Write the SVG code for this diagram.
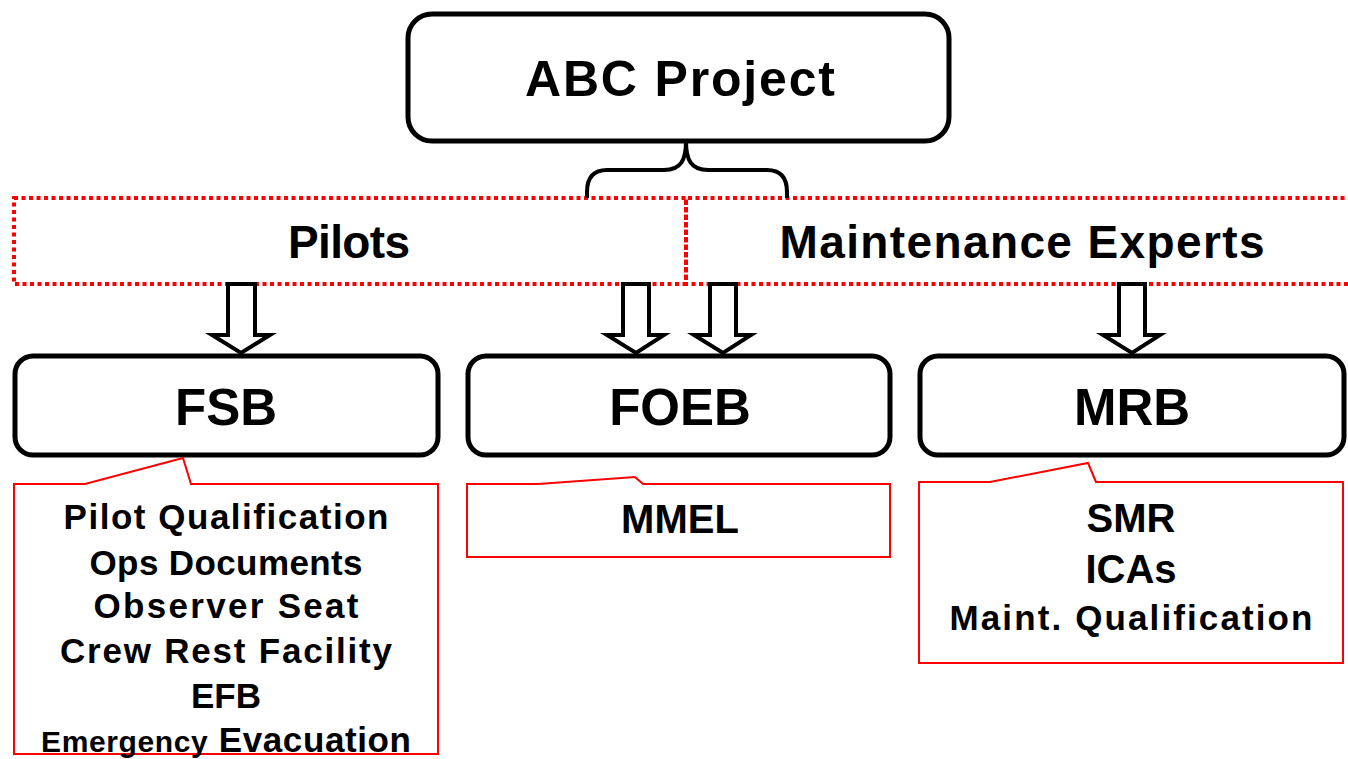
<svg xmlns="http://www.w3.org/2000/svg" width="1348" height="759" viewBox="0 0 1348 759">
<style>
.box{fill:#fff;stroke:#000;stroke-width:5}
.group{fill:none;stroke:#f00;stroke-width:4;stroke-dasharray:4 3.5}
.call{fill:#fff;stroke:#f00;stroke-width:2}
.arrow{fill:#fff;stroke:#000;stroke-width:4;stroke-linejoin:miter}
.brace{fill:none;stroke:#000;stroke-width:4}
text{font-family:"Liberation Sans",Arial,sans-serif;font-weight:bold;fill:#000;text-anchor:middle}
.t1{font-size:50px}
.t2{font-size:46px}
.t3{font-size:51px}
.t4{font-size:35px}
.t5{font-size:40px}
</style>
<rect width="1348" height="759" fill="#fff"/>
<g id="abc-project">
<rect class="box" x="408" y="14" width="541" height="127" rx="24"/>
<text class="t1" x="680" y="96" textLength="310">ABC Project</text>
</g>
<g id="pilots">
<rect class="group" x="14" y="198" width="672" height="86"/>
<text class="t2" x="349" y="258" textLength="122">Pilots</text>
</g>
<g id="maintenance-experts">
<path class="group" d="M1352,198 H686 V284 H1352"/>
<text class="t2" x="1022" y="258" textLength="485">Maintenance Experts</text>
</g>
<g id="connectors">
<path class="brace" d="M686,141 C686,160 681,170 664,170 L607,170 Q587,170 587,192 L587,198"/>
<path class="brace" d="M686,141 C686,160 691,170 708,170 L767,170 Q787,170 787,192 L787,198"/>
<polygon class="arrow" points="228,284 255,284 255,335 270,335 241,353 212,335 228,335"/>
<polygon class="arrow" points="623,284 649,284 649,335 664,335 636,353 607,335 623,335"/>
<polygon class="arrow" points="710,284 736,284 736,335 751,335 723,353 694,335 710,335"/>
<polygon class="arrow" points="1119,284 1145,284 1145,335 1160,335 1132,353 1103,335 1119,335"/>
</g>
<g id="fsb">
<rect class="box" x="15" y="356" width="423" height="99" rx="18"/>
<text class="t3" x="226" y="425">FSB</text>
</g>
<g id="foeb">
<rect class="box" x="468" y="356" width="422" height="99" rx="18"/>
<text class="t3" x="680" y="425">FOEB</text>
</g>
<g id="mrb">
<rect class="box" x="920" y="356" width="424" height="99" rx="18"/>
<text class="t3" x="1132" y="425">MRB</text>
</g>
<g id="fsb-items">
<path class="call" d="M14,484 H85 L183,458 L191,484 H438 V754 H14 Z"/>
<text class="t4" x="226" y="529" textLength="325">Pilot Qualification</text>
<text class="t4" x="226" y="575" textLength="273">Ops Documents</text>
<text class="t4" x="226" y="618" textLength="265">Observer Seat</text>
<text class="t4" x="226" y="663" textLength="332">Crew Rest Facility</text>
<text class="t4" x="226" y="708">EFB</text>
<text class="t4" x="226" y="752" textLength="370"><tspan font-size="30">Emergency</tspan> Evacuation</text>
</g>
<g id="foeb-items">
<path class="call" d="M467,484 H538 L635,477 L643,484 H890 V557 H467 Z"/>
<text class="t5" x="680" y="533">MMEL</text>
</g>
<g id="mrb-items">
<path class="call" d="M919,482 H990 L1088,463 L1096,482 H1343 V663 H919 Z"/>
<text class="t5" x="1131" y="532">SMR</text>
<text class="t5" x="1131" y="583">ICAs</text>
<text class="t4" x="1131" y="630" textLength="363">Maint. Qualification</text>
</g>
</svg>
